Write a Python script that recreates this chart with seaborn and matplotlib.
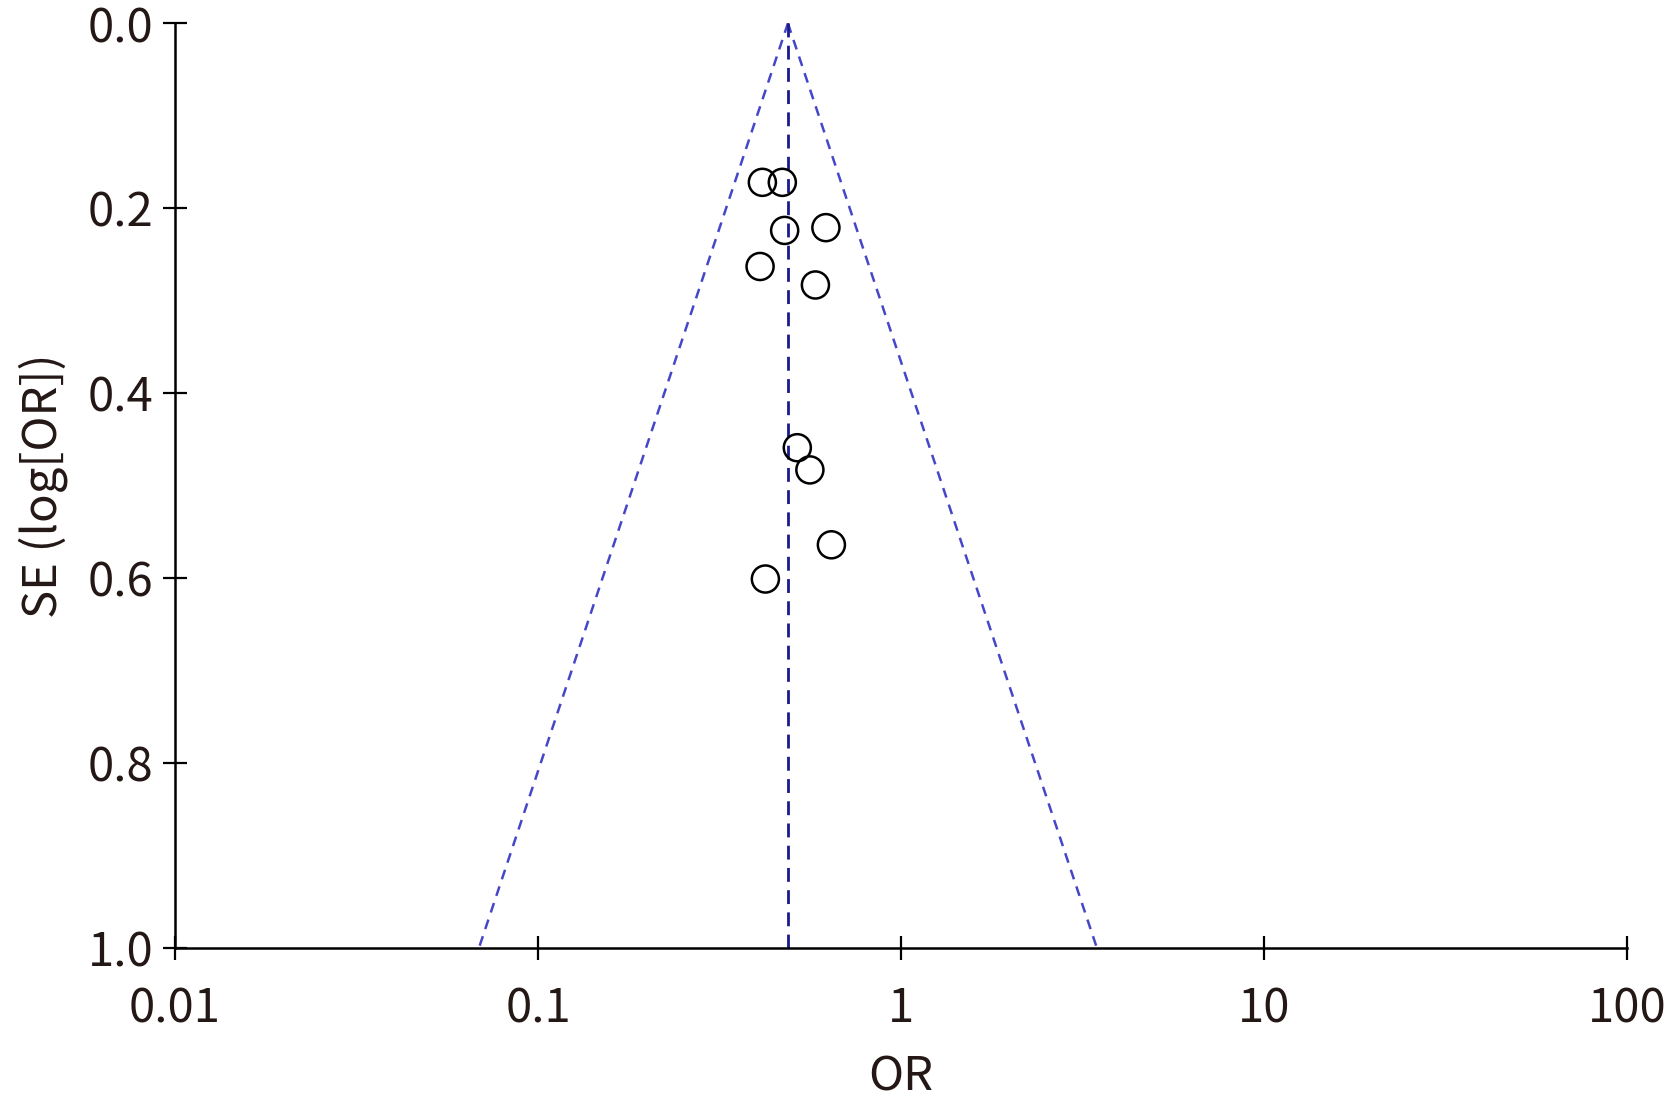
import numpy as np
import pandas as pd
import seaborn as sns
import matplotlib.pyplot as plt
from matplotlib.ticker import FixedLocator, NullLocator

# study estimates
odds_ratio = [0.415, 0.471, 0.478, 0.621, 0.409, 0.581, 0.518, 0.561, 0.643, 0.423]
std_err = [0.172, 0.172, 0.224, 0.221, 0.263, 0.283, 0.459, 0.483, 0.564, 0.601]
pooled_or = 0.488
se_max = 1.0
x_ticks = [0.01, 0.1, 1, 10, 100]
x_tick_labels = ['0.01', '0.1', '1', '10', '100']
y_ticks = [0.0, 0.2, 0.4, 0.6, 0.8, 1.0]

sns.set_theme(style='white')
plt.rcParams['font.family'] = ['Noto Sans CJK JP', 'DejaVu Sans']
txt = '#231815'

df = pd.DataFrame({'OR': odds_ratio, 'SE': std_err})

# funnel limits (95% pseudo CI)
se_line = np.array([0.0, se_max])
lo = np.exp(np.log(pooled_or) - 1.96 * se_line)
hi = np.exp(np.log(pooled_or) + 1.96 * se_line)

fig = plt.figure(figsize=(16.67, 11.10), dpi=100)
ax = fig.add_axes([0.105, 0.146, 0.871, 0.833])

ax.plot(lo, se_line, ls=(0, (4, 3)), color='#4646c8', lw=1.8)
ax.plot(hi, se_line, ls=(0, (4, 3)), color='#4646c8', lw=1.8)
ax.plot([pooled_or, pooled_or], [0, se_max], ls=(0, (5, 3)), color='#1a1a8c', lw=2.0)

sns.scatterplot(data=df, x='OR', y='SE', ax=ax, s=380, marker='o',
                facecolor='none', edgecolor='black', linewidth=1.8, zorder=5)

ax.set_xscale('log')
ax.set_xlim(0.01, 100)
ax.set_ylim(1.0, 0.0)
ax.xaxis.set_major_locator(FixedLocator(x_ticks))
ax.xaxis.set_minor_locator(NullLocator())
ax.set_xticklabels(x_tick_labels)
ax.set_yticks(y_ticks)
ax.set_yticklabels([f'{v:.1f}' for v in y_ticks])

for s in ['top', 'right']:
    ax.spines[s].set_visible(False)
for s in ['left', 'bottom']:
    ax.spines[s].set_color('black')
    ax.spines[s].set_linewidth(1.8)

ax.tick_params(axis='both', which='major', bottom=True, left=True,
               direction='inout', length=17, width=1.6,
               colors='black', labelcolor=txt, labelsize=34)
ax.tick_params(axis='x', pad=18)
ax.tick_params(axis='y', pad=7)

ax.set_xlabel('OR', fontsize=34, color=txt, labelpad=14)
ax.set_ylabel('SE (log[OR])', fontsize=34, color=txt, labelpad=14)

fig.savefig('out.png', dpi=100, facecolor='white')
